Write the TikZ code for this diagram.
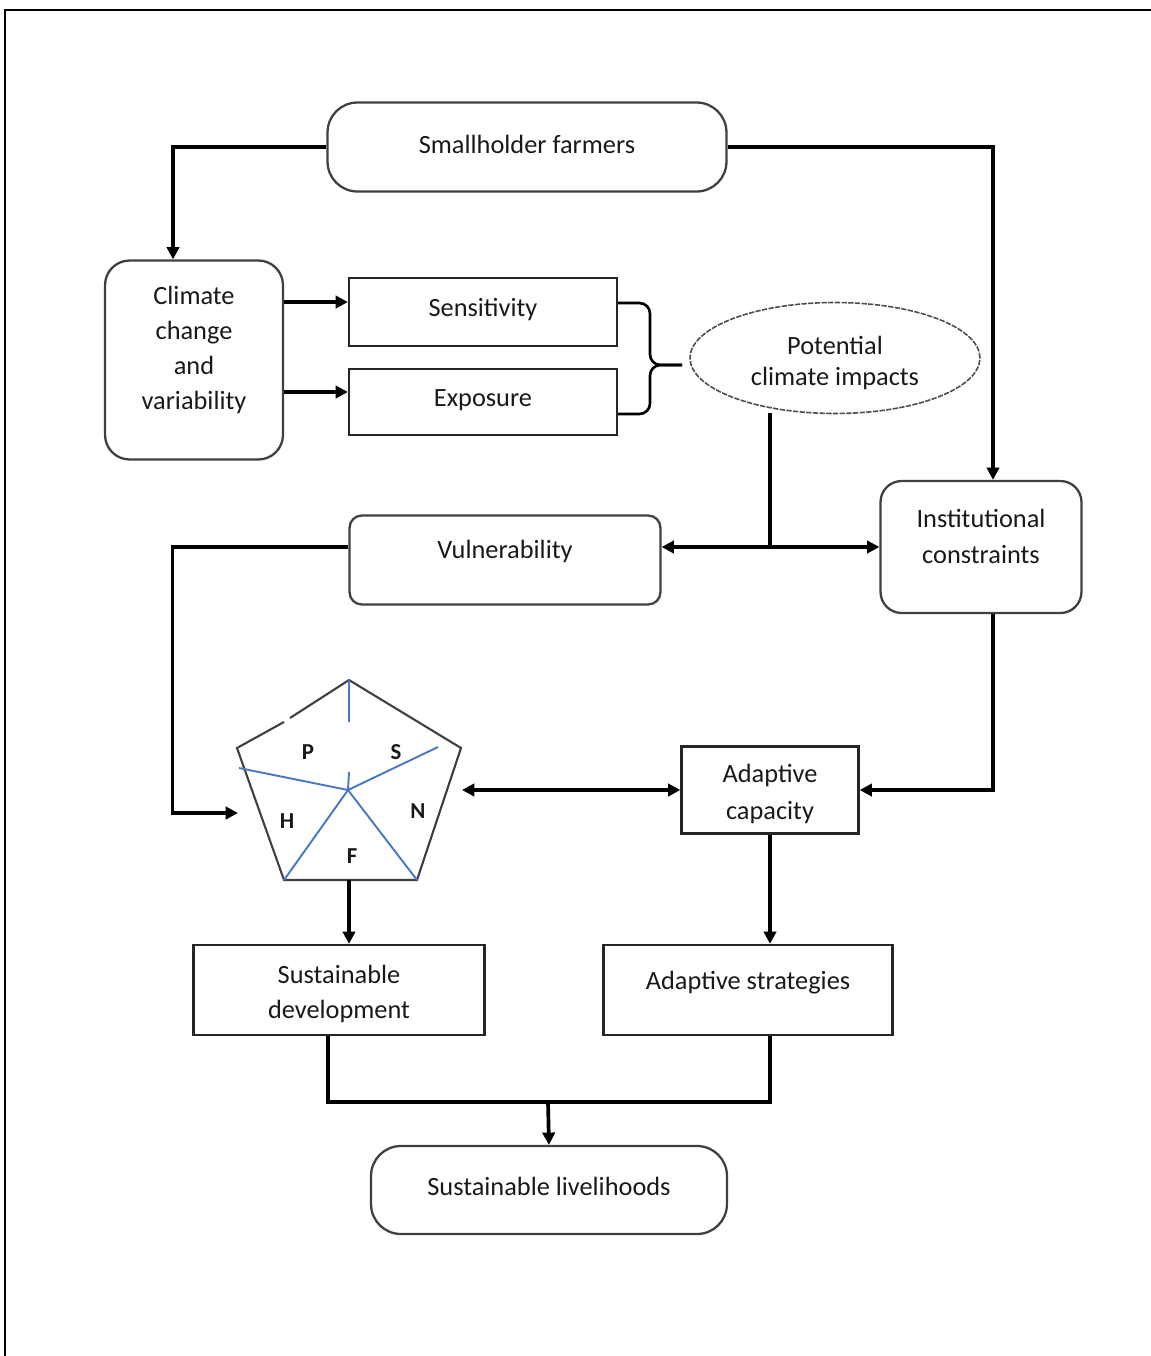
\documentclass[tikz,border=0pt]{standalone}
\usepackage{fontspec}
\setmainfont{Carlito}
\usetikzlibrary{arrows.meta,positioning,shapes.geometric}

\definecolor{spokeblue}{RGB}{74,120,200}

\tikzset{
  txt/.style={align=center, text=black!90, font=\fontsize{15}{20}\selectfont},
  box/.style={draw=black!85, line width=1.3pt, inner sep=2pt, txt},
  roundbox/.style={box, draw=black!75},
  line/.style={line width=2.1pt},
  link/.style={line, -{Triangle[length=7pt,width=7pt]}},
  pent/.style={draw=black!75, line width=1.2pt},
  spoke/.style={draw=spokeblue, line width=1.1pt},
  capletter/.style={font=\fontsize{13}{13}\bfseries, text=black!90, inner sep=1pt},
}

\begin{document}
\begin{tikzpicture}[x=0.02cm, y=-0.02cm]

\useasboundingbox (0,0) rectangle (1151,1356);
\draw[line width=1.5pt] (1170,10) -- (5,10) -- (5,1380);

% boxes
\node[roundbox, rounded corners=17pt, minimum width=7.98cm, minimum height=1.78cm,
  label={[txt,yshift=0.06cm]center:Smallholder farmers}] (farmers) at (527,147) {};
\node[roundbox, rounded corners=14pt, minimum width=3.56cm, minimum height=3.98cm,
  label={[txt,yshift=0.2cm]center:{Climate\\change\\and\\variability}}] (climate) at (194,360) {};
\node[box, minimum width=5.36cm, minimum height=1.36cm,
  label={[txt,yshift=0.04cm]center:Sensitivity}] (sens) at (483,312) {};
\node[box, minimum width=5.36cm, minimum height=1.32cm,
  label={[txt,yshift=0.04cm]center:Exposure}] (expo) at (483,402) {};
\node[ellipse, draw=black!70, line width=0.9pt, dash pattern=on 3pt off 0.8pt,
  minimum width=5.8cm, minimum height=2.22cm,
  label={[txt,font=\fontsize{15}{18}\selectfont,yshift=-0.1cm]center:{Potential\\climate impacts}}] (impacts) at (835,358) {};
\node[roundbox, rounded corners=12pt, minimum width=4.02cm, minimum height=2.64cm,
  label={[txt,yshift=0.21cm]center:{Institutional\\constraints}}] (inst) at (981,547) {};
\node[roundbox, rounded corners=7pt, minimum width=6.22cm, minimum height=1.78cm,
  label={[txt,yshift=0.18cm]center:Vulnerability}] (vuln) at (505,560) {};
\node[box, minimum width=3.54cm, minimum height=1.74cm,
  label={[txt,font=\fontsize{15}{21}\selectfont,yshift=-0.08cm]center:{Adaptive\\capacity}}] (adapt) at (770,790) {};
\node[box, minimum width=5.82cm, minimum height=1.8cm,
  label={[txt,yshift=-0.08cm]center:{Sustainable\\development}}] (sustdev) at (339,990) {};
\node[box, minimum width=5.78cm, minimum height=1.8cm,
  label={[txt,yshift=0.14cm]center:Adaptive strategies}] (strat) at (748,990) {};
\node[roundbox, rounded corners=17pt, minimum width=7.12cm, minimum height=1.76cm,
  label={[txt,yshift=0.08cm]center:Sustainable livelihoods}] (liveli) at (549,1190) {};

% capitals pentagon
\coordinate (ptop) at (349,680);
\coordinate (pright) at (461,748);
\coordinate (pbr) at (417,880);
\coordinate (pbl) at (284,880);
\coordinate (pleft) at (237,748);
\coordinate (pc) at (348,790);
\draw[pent] (ptop) -- (pright) -- (pbr) -- (pbl) -- (pleft) -- (284,722);
\draw[pent] (290,718) -- (ptop);
\draw[spoke] (ptop) -- (349,722) (349,772) -- (pc) -- (239,768)
  (pc) -- (438,747) (pc) -- (pbl) (pc) -- (pbr);
\node[capletter] (capP) at (308,752) {P};
\node[capletter] (capS) at (396,752) {S};
\node[capletter] (capH) at (287,821) {H};
\node[capletter] (capN) at (418,811) {N};
\node[capletter] (capF) at (352,856) {F};

% connectors
\coordinate (mid) at (650,365);
\coordinate (tip) at (682,365);
\coordinate (split) at (770,547);
\coordinate (hin) at (238,813);
\coordinate (nin) at (462,790);
\coordinate (pbot) at (349,880);
\coordinate (join) at (548,1102);

\draw[link] (farmers.west) -| ([xshift=-0.42cm]climate.north);
\draw[link] (farmers.east) -| ([xshift=0.24cm]inst.north);
\draw[link] ([yshift=0.2cm]sens.west -| climate.east) -- ([yshift=0.2cm]sens.west);
\draw[link] ([yshift=0.2cm]expo.west -| climate.east) -- ([yshift=0.2cm]expo.west);
\draw[line width=1.5pt, rounded corners=6pt] ([yshift=0.18cm]sens.east) -| (mid) -- (tip);
\draw[line width=1.5pt, rounded corners=6pt] ([yshift=-0.24cm]expo.east) -| (mid) -- (tip);
\draw[line] (770,413) -- (split);
\draw[link] (split) -- (vuln.east |- split);
\draw[link] (split) -- (inst.west |- split);
\draw[link] ([yshift=0.26cm]vuln.west) -- ++(-176,0) |- (hin);
\draw[link] ([xshift=0.24cm]inst.south) |- (adapt.east);
\draw[line, {Triangle[length=7pt,width=7pt]}-{Triangle[length=7pt,width=7pt]}] (nin) -- (adapt.west);
\draw[link] (adapt.south) -- (adapt.south |- strat.north);
\draw[link] (pbot) -- (pbot |- sustdev.north);
\draw[line] ([xshift=-0.22cm]sustdev.south) |- (join) -| ([xshift=0.44cm]strat.south);
\draw[link] (join) -- (liveli.north);

\end{tikzpicture}
\end{document}
